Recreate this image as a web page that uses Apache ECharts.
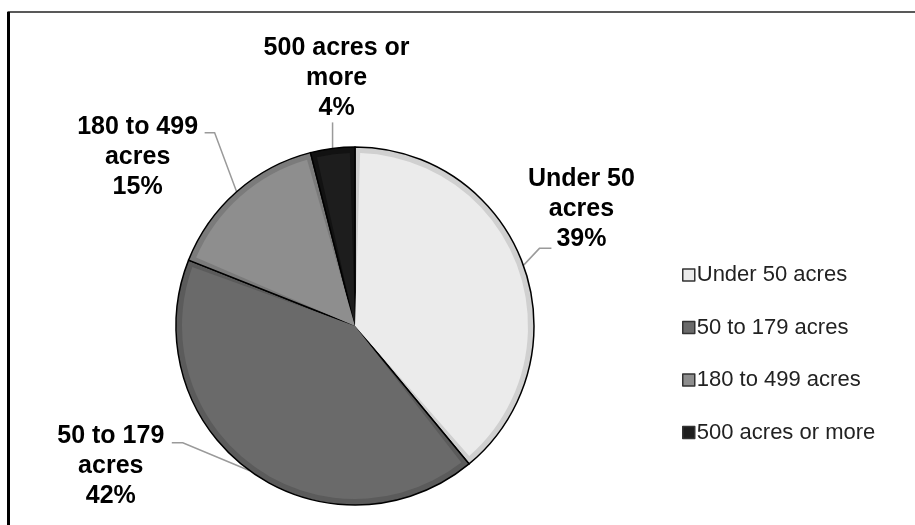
<!DOCTYPE html>
<html>
<head>
<meta charset="utf-8">
<script src="https://cdn.jsdelivr.net/npm/echarts@6/dist/echarts.min.js"></script>
<style>
  html, body { margin: 0; padding: 0; background: #ffffff; }
  #chart { width: 915px; height: 525px; }
</style>
</head>
<body>
<div id="chart"></div>
<script>
// Farm size distribution (share of farms, %)
const categories = ['Under 50 acres', '50 to 179 acres', '180 to 499 acres', '500 acres or more'];
const shares = [39, 42, 15, 4];
const labelNames = ['Under 50\nacres', '50 to 179\nacres', '180 to 499\nacres', '500 acres or\nmore'];

// Slice styling: inner fill and the slightly different edge band
const fillColors = ['#ebebeb', '#6a6a6a', '#8e8e8e', '#1d1d1d'];
const bandColors = ['#d0d0d0', '#5b5b5b', '#7b7b7b', '#121212'];

const FONT = '"Liberation Sans", Arial, Helvetica, sans-serif';
const CX = 355, CY = 326, R = 179;

// Label block centre and leader-line bends, relative to the slice's rim point
const labelPlacement = [
  { dx: 58,   dy: -56, bend: [16, -17],  end: [28, -17] },
  { dx: -139, dy: -5,  bend: [-67, -28], end: [-78, -28] },
  { dx: -99,  dy: -35, bend: [-22, -59], end: [-32, -59] },
  { dx: 4,    dy: -70, bend: [0, -26],   end: [0, -26] }
];

// Rim point at the middle angle of each slice (clockwise from 12 o'clock)
const total = shares.reduce((a, b) => a + b, 0);
function rimPoint(i) {
  let before = 0;
  for (let k = 0; k < i; k++) before += shares[k];
  const mid = (before + shares[i] / 2) / total * Math.PI * 2;
  return [CX + R * Math.sin(mid), CY - R * Math.cos(mid)];
}

const chart = echarts.init(document.getElementById('chart'), null, { renderer: 'canvas' });

chart.setOption({
  animation: false,
  backgroundColor: '#ffffff',
  textStyle: { fontFamily: FONT },
  graphic: [
    {
      type: 'rect', silent: true,
      shape: { x: 8.5, y: 12, width: 1000, height: 1000 },
      style: { fill: 'none', stroke: '#595959', lineWidth: 2 }
    },
    {
      type: 'line', silent: true,
      shape: { x1: 8.5, y1: 12, x2: 8.5, y2: 525 },
      style: { stroke: '#000000', lineWidth: 3 }
    }
  ],
  legend: {
    orient: 'vertical',
    left: 682,
    top: 264,
    padding: 0,
    itemWidth: 12,
    itemHeight: 12,
    itemGap: 30.5,
    selectedMode: false,
    textStyle: { fontSize: 22, color: '#222222', fontFamily: FONT, lineHeight: 22, padding: [0, 0, 0, -3] },
    data: categories.map((name, i) => ({
      name: name,
      icon: 'rect',
      itemStyle: { color: fillColors[i], borderColor: '#333333', borderWidth: 1.5 }
    }))
  },
  series: [
    {
      // outer layer: edge band colour with black outline, carries the labels
      type: 'pie',
      center: [CX, CY],
      radius: [0, R],
      startAngle: 90,
      clockwise: true,
      silent: true,
      emphasis: { disabled: true },
      data: shares.map((v, i) => ({
        name: categories[i], value: v,
        itemStyle: { color: bandColors[i] }
      })),
      itemStyle: { borderColor: '#000000', borderWidth: 1.5 },
      label: {
        show: true,
        position: 'outside',
        formatter: p => labelNames[p.dataIndex] + '\n' + p.value + '%',
        fontFamily: FONT,
        fontSize: 25,
        fontWeight: 'bold',
        lineHeight: 30,
        color: '#000000'
      },
      labelLine: { show: true, lineStyle: { color: '#9a9a9a', width: 1.5 } },
      labelLayout: function (p) {
        const i = p.dataIndex;
        const pl = labelPlacement[i];
        const e = rimPoint(i);
        return {
          x: e[0] + pl.dx,
          y: e[1] + pl.dy,
          align: 'center',
          verticalAlign: 'middle',
          labelLinePoints: [
            e,
            [e[0] + pl.bend[0], e[1] + pl.bend[1]],
            [e[0] + pl.end[0], e[1] + pl.end[1]]
          ]
        };
      }
    },
    {
      // inner fill, inset from the rim and from the slice boundaries
      type: 'pie',
      center: [CX, CY],
      radius: [0, R - 6],
      startAngle: 90,
      clockwise: true,
      padAngle: 3.4,
      silent: true,
      z: 3,
      emphasis: { disabled: true },
      data: shares.map((v, i) => ({
        name: categories[i], value: v,
        itemStyle: { color: fillColors[i] }
      })),
      label: { show: false },
      labelLine: { show: false }
    }
  ]
});
</script>
</body>
</html>
